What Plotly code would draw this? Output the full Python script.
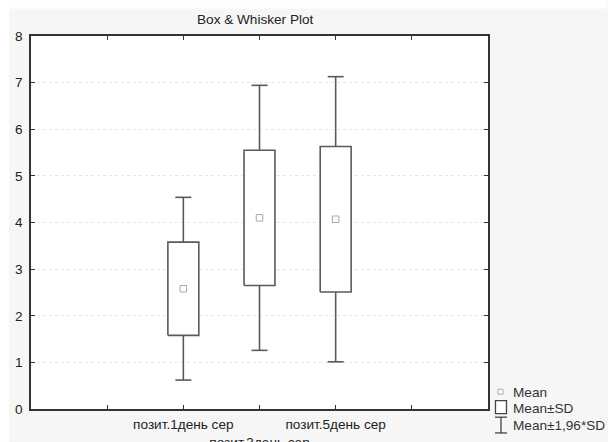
import plotly.graph_objects as go

# ---- data ----
categories = ["позит.1день сер", "позит.3день сер", "позит.5день сер"]
positions = [2, 3, 4]
means = [2.58, 4.10, 4.07]
sds = [1.00, 1.45, 1.56]
k = 1.96
y_ticks = [0, 1, 2, 3, 4, 5, 6, 7, 8]
x_tickvals = [1, 2, 3, 4, 5]
x_ticktext = ["", categories[0], "<br>" + categories[1], categories[2], ""]
legend_labels = ["Mean", "Mean±SD", "Mean±1,96*SD"]

# ---- geometry (pixels) ----
W, H = 608, 442
L, R, T, B = 31, 488.5, 35.5, 409.3
FONT = "Liberation Sans, Arial, sans-serif"
LINE = "#5a5a5a"
FS = 13.6

box_hw = 0.203
cap_hw = 0.105

bx, by = [], []
wx, wy = [], []
for p, m, s in zip(positions, means, sds):
    lo, hi = m - s, m + s
    bx += [p - box_hw, p + box_hw, p + box_hw, p - box_hw, p - box_hw, None]
    by += [lo, lo, hi, hi, lo, None]
    wlo, whi = m - k * s, m + k * s
    wx += [p, p, None, p, p, None,
           p - cap_hw, p + cap_hw, None, p - cap_hw, p + cap_hw, None]
    wy += [hi, whi, None, lo, wlo, None,
           whi, whi, None, wlo, wlo, None]

fig = go.Figure()
fig.add_trace(go.Scatter(x=wx, y=wy, mode="lines",
                         line=dict(color=LINE, width=1.6),
                         hoverinfo="skip", showlegend=False))
fig.add_trace(go.Scatter(x=bx, y=by, mode="lines", fill="toself",
                         fillcolor="white",
                         line=dict(color=LINE, width=1.6),
                         hoverinfo="skip", showlegend=False))
fig.add_trace(go.Scatter(x=positions, y=means, mode="markers",
                         marker=dict(symbol="square-open", size=6.5,
                                     color="#a8a8a8", line=dict(width=1)),
                         showlegend=False))

def px(xp):
    return (xp - L) / (R - L)

def py(yp):
    return (B - yp) / (B - T)

shapes = [
    # white strips at the left and top edge of the page
    dict(type="rect", xref="paper", yref="paper", x0=px(0), x1=px(9),
         y0=py(0), y1=py(H), fillcolor="white", line_width=0, layer="above"),
    dict(type="rect", xref="paper", yref="paper", x0=px(0), x1=px(W),
         y0=py(0), y1=py(8), fillcolor="white", line_width=0, layer="above"),
    # legend icons
    dict(type="rect", xref="paper", yref="paper", x0=px(498.5), x1=px(503.5),
         y0=py(394.5), y1=py(389.5), line=dict(color="#a8a8a8", width=1),
         fillcolor="white"),
    dict(type="rect", xref="paper", yref="paper", x0=px(496), x1=px(507),
         y0=py(414), y1=py(401), line=dict(color="#444", width=1.3),
         fillcolor="white"),
    dict(type="line", xref="paper", yref="paper", x0=px(495.5), x1=px(507.5),
         y0=py(417.5), y1=py(417.5), line=dict(color="#444", width=1.3)),
    dict(type="line", xref="paper", yref="paper", x0=px(495.5), x1=px(507.5),
         y0=py(433.3), y1=py(433.3), line=dict(color="#444", width=1.3)),
    dict(type="line", xref="paper", yref="paper", x0=px(501.5), x1=px(501.5),
         y0=py(417.5), y1=py(433.3), line=dict(color="#444", width=1.3)),
]

annotations = [
    dict(text="Box & Whisker Plot", xref="paper", yref="paper",
         x=px(256), y=py(19), showarrow=False, xanchor="center",
         yanchor="middle", font=dict(size=FS, color="#222", family=FONT)),
]
for lab, yc in zip(legend_labels, [392.7, 409, 426]):
    annotations.append(dict(text=lab, xref="paper", yref="paper",
                            x=px(512), y=py(yc), showarrow=False,
                            xanchor="left", yanchor="middle",
                            font=dict(size=FS, color="#333", family=FONT)))

fig.update_layout(
    width=W, height=H,
    margin=dict(l=L, r=W - R, t=T, b=H - B, pad=0, autoexpand=False),
    paper_bgcolor="#f6f6f6",
    plot_bgcolor="white",
    font=dict(family=FONT, size=FS, color="#222"),
    shapes=shapes,
    annotations=annotations,
    showlegend=False,
)
fig.update_xaxes(range=[0, 6], tickmode="array", tickvals=x_tickvals,
                 ticktext=x_ticktext, ticks="inside", ticklen=4,
                 tickcolor="#333", tickwidth=1.3, tickangle=0,
                 automargin=False, ticklabelstandoff=2,
                 showline=True, linecolor="#333", linewidth=1.6,
                 mirror="allticks", showgrid=False, zeroline=False,
                 tickfont=dict(size=FS, color="#222"))
fig.update_yaxes(range=[0, 8], tickmode="array", tickvals=y_ticks,
                 ticks="inside", ticklen=4, tickcolor="#333", tickwidth=1.3,
                 automargin=False, ticklabelstandoff=4,
                 showline=True, linecolor="#333", linewidth=1.6,
                 mirror="allticks", showgrid=True, gridcolor="#e6e6e6",
                 griddash="dot", gridwidth=1, zeroline=False,
                 tickfont=dict(size=FS, color="#222"))

fig.write_html("out.html")
